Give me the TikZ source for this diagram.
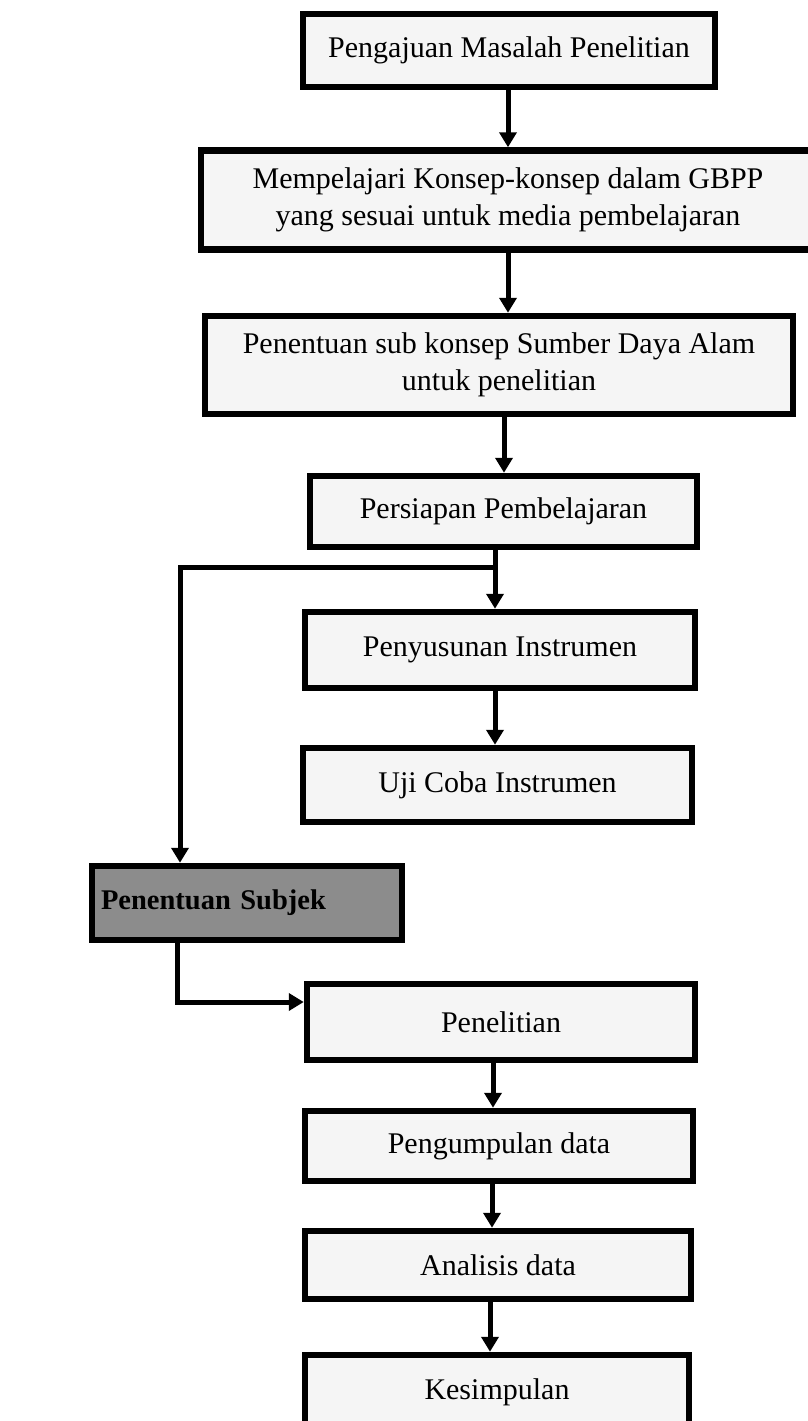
\documentclass[tikz,border=0pt]{standalone}
\usepackage{fontspec}
\setmainfont{Liberation Serif}
\usetikzlibrary{arrows.meta}
\begin{document}
\begin{tikzpicture}[x=1pt,y=-1pt,
  stepbox/.style={draw=black,line width=6.5pt,fill=black!4,inner sep=0pt,align=center,
    font=\fontsize{30}{36.5}\selectfont},
  graybox/.style={stepbox,fill=black!45,font=\fontsize{28.5}{34}\selectfont\bfseries},
  link/.style={line width=5pt,draw=black},
  arr/.style={link,-{Triangle[width=17pt,length=15pt]}}]
\useasboundingbox (0,0) rectangle (808,1421);
\clip (0,0) rectangle (808,1421);
\fill[white] (0,0) rectangle (808,1421);
\node[stepbox,minimum width=412pt,minimum height=73pt] (b1) at (509,50.5) {Pengajuan Masalah Penelitian};
\node[stepbox,minimum width=614pt,minimum height=99pt] (b2) at (508,200) {Mempelajari Konsep-konsep dalam GBPP\\yang sesuai untuk media pembelajaran};
\node[stepbox,minimum width=588pt,minimum height=98pt] (b3) at (499,365) {Penentuan sub konsep Sumber Daya Alam\\untuk penelitian};
\node[stepbox,minimum width=387pt,minimum height=71pt] (b4) at (503.5,511.5) {Persiapan Pembelajaran};
\node[stepbox,minimum width=390pt,minimum height=76pt] (b5) at (500,650) {Penyusunan Instrumen};
\node[stepbox,minimum width=389pt,minimum height=74pt] (b6) at (497.5,785) {Uji Coba Instrumen};
\node[graybox,minimum width=310pt,minimum height=74pt,text width=292pt,align=left] (b7) at (247,903) {Penentuan Subjek};
\node[stepbox,minimum width=388pt,minimum height=76pt] (b8) at (501,1022) {Penelitian};
\node[stepbox,minimum width=388pt,minimum height=70pt] (b9) at (499,1146) {Pengumpulan data};
\node[stepbox,minimum width=386pt,minimum height=68pt] (b10) at (498,1265) {Analisis data};
\node[stepbox,minimum width=384pt,minimum height=74pt] (b11) at (497,1392) {Kesimpulan};
\coordinate (c1) at (508,0);
\coordinate (c3) at (504,0);
\coordinate (br) at (495,567);
\coordinate (k1) at (180,567);
\coordinate (k2) at (177,1002);
\coordinate (c8) at (493,0);
\coordinate (c9) at (492,0);
\coordinate (c10) at (490,0);
\draw[arr] (b1.south -| c1) -- (b2.north -| c1);
\draw[arr] (b2.south -| c1) -- (b3.north -| c1);
\draw[arr] (b3.south -| c3) -- (b4.north -| c3);
\draw[link] (b4.south -| br) -- (br);
\draw[arr] (br) -- (b5.north -| br);
\draw[arr] (br) -- (k1) -- (k1 |- b7.north);
\draw[arr] (b5.south -| br) -- (b6.north -| br);
\draw[arr] (b7.south -| k2) -- (k2) -- (b8.west |- k2);
\draw[arr] (b8.south -| c8) -- (b9.north -| c8);
\draw[arr] (b9.south -| c9) -- (b10.north -| c9);
\draw[arr] (b10.south -| c10) -- (b11.north -| c10);
\end{tikzpicture}
\end{document}
